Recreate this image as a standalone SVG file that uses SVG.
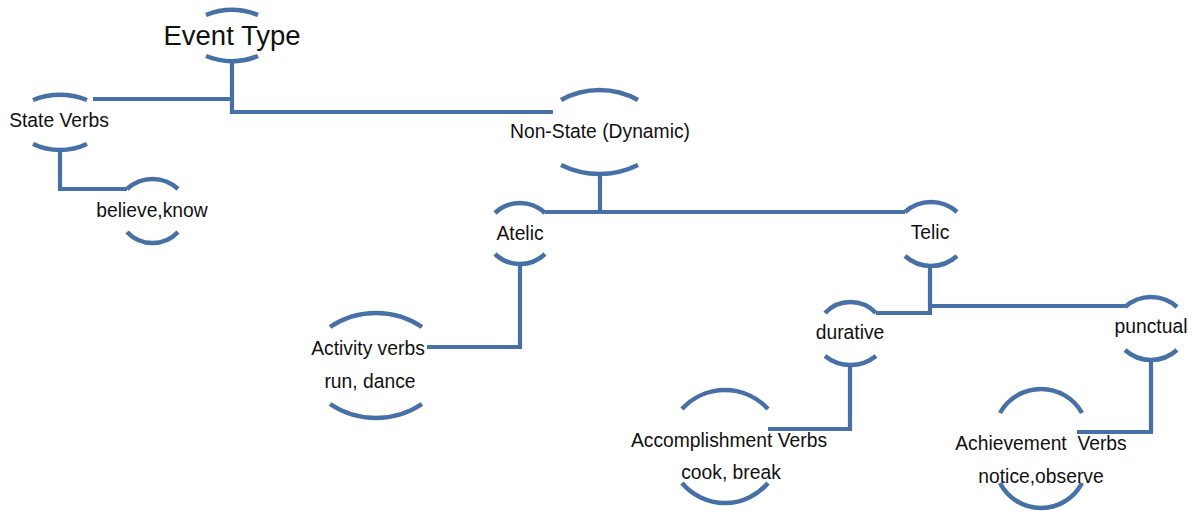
<svg xmlns="http://www.w3.org/2000/svg" width="1192" height="513" viewBox="0 0 1192 513">
<style>
.arc{fill:none;stroke:#4670a6;stroke-width:4.5}
.con{fill:none;stroke:#4670a6;stroke-width:4.2}
text{font-family:"Liberation Sans",Arial,sans-serif;font-size:19.3px;fill:#111;text-anchor:middle}
.big{font-size:27.5px}
</style>
<rect width="1192" height="513" fill="#fff"/>
<g id="connectors">
<path class="con" d="M93 99 H232"/>
<path class="con" d="M232 60 V112 H553"/>
<path class="con" d="M60 150 V189 H127"/>
<path class="con" d="M600 174 V212"/>
<path class="con" d="M545 212 H905"/>
<path class="con" d="M520 264 V347 H427"/>
<path class="con" d="M930 266 V313 H876"/>
<path class="con" d="M930 306 H1125"/>
<path class="con" d="M850 365 V429 H768"/>
<path class="con" d="M1151 360 V432 H1077"/>
</g>
<g id="event-type">
<path class="arc" d="M206 15 A70 70 0 0 1 258 15"/>
<path class="arc" d="M206 56 A70 70 0 0 0 258 56"/>
<text class="big" x="232" y="45">Event Type</text>
</g>
<g id="state-verbs">
<path class="arc" d="M33 100 A75 75 0 0 1 87 100"/>
<path class="arc" d="M33 144 A64 64 0 0 0 87 144"/>
<text x="59" y="127">State Verbs</text>
</g>
<g id="believe-know">
<path class="arc" d="M127 189 A37.5 37.5 0 0 1 178 189"/>
<path class="arc" d="M127 232 A35 35 0 0 0 178 232"/>
<text x="152" y="217">believe,know</text>
</g>
<g id="non-state">
<path class="arc" d="M561 100 A79 79 0 0 1 638 100"/>
<path class="arc" d="M561 165 A87 87 0 0 0 638 165"/>
<text x="600" y="138">Non-State (Dynamic)</text>
</g>
<g id="atelic">
<path class="arc" d="M495 213 A36.3 36.3 0 0 1 545 213"/>
<path class="arc" d="M495 254 A36.3 36.3 0 0 0 545 254"/>
<text x="520" y="240">Atelic</text>
</g>
<g id="telic">
<path class="arc" d="M905 212 A38.8 38.8 0 0 1 957 212"/>
<path class="arc" d="M905 256 A38.8 38.8 0 0 0 957 256"/>
<text x="930" y="239">Telic</text>
</g>
<g id="activity-verbs">
<path class="arc" d="M330 327 A82.6 82.6 0 0 1 422 327"/>
<path class="arc" d="M330 404 A82.6 82.6 0 0 0 422 404"/>
<text x="368" y="355">Activity verbs</text>
<text x="370" y="388">run, dance</text>
</g>
<g id="durative">
<path class="arc" d="M825 313 A35 35 0 0 1 876 313"/>
<path class="arc" d="M825 356 A40.6 40.6 0 0 0 876 356"/>
<text x="850" y="339">durative</text>
</g>
<g id="punctual">
<path class="arc" d="M1125 307 A38.8 38.8 0 0 1 1177 307"/>
<path class="arc" d="M1125 350 A38.8 38.8 0 0 0 1177 350"/>
<text x="1151" y="333">punctual</text>
</g>
<g id="accomplishment-verbs">
<path class="arc" d="M682 409 A58.2 58.2 0 0 1 768 409"/>
<path class="arc" d="M682 483 A56.2 56.2 0 0 0 768 483"/>
<text x="729" y="447">Accomplishment Verbs</text>
<text x="731" y="479">cook, break</text>
</g>
<g id="achievement-verbs">
<path class="arc" d="M1000 413 A47 47 0 0 1 1082 413"/>
<path class="arc" d="M1000 483 A46.1 46.1 0 0 0 1082 483"/>
<text x="1041" y="450" xml:space="preserve">Achievement  Verbs</text>
<text x="1041" y="483">notice,observe</text>
</g>
</svg>
